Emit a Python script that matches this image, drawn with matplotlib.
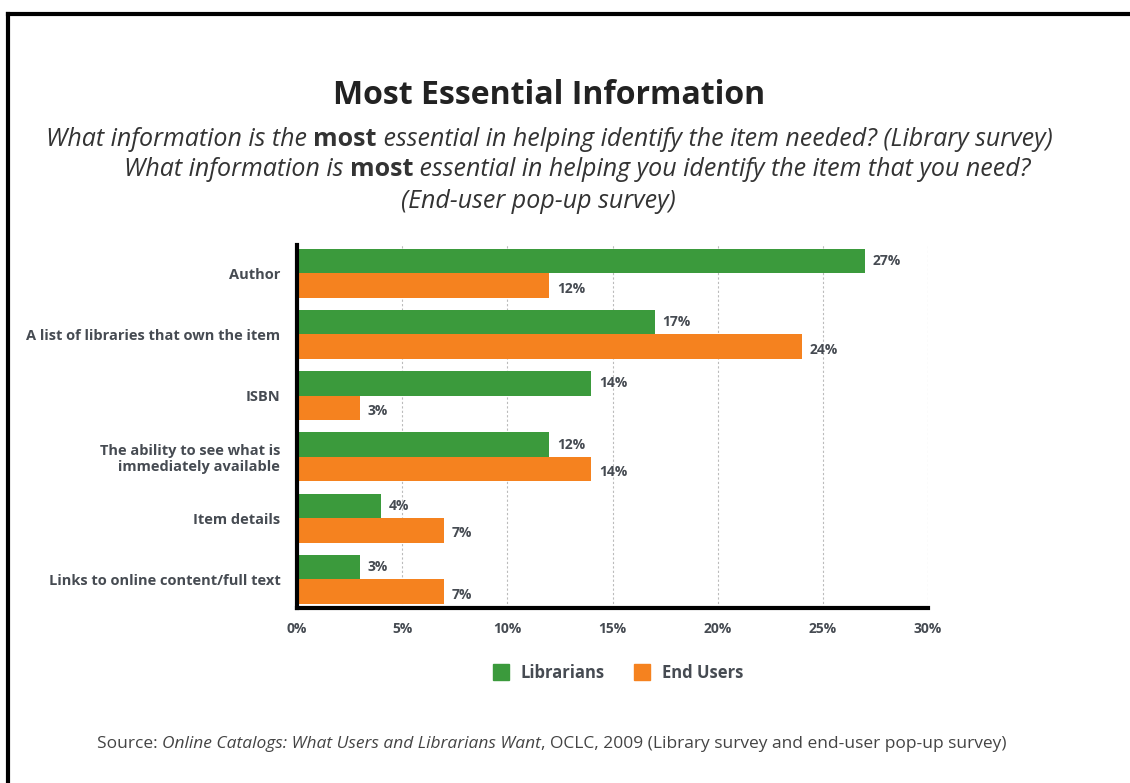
import matplotlib
matplotlib.use("Agg")
import matplotlib.pyplot as plt
import numpy as np
from matplotlib.lines import Line2D

categories = ["Author", "A list of libraries that own the item", "ISBN",
              "The ability to see what is\nimmediately available", "Item details",
              "Links to online content/full text"]
librarians = [27, 17, 14, 12, 4, 3]
end_users = [12, 24, 3, 14, 7, 7]
series_names = ["Librarians", "End Users"]
xticks = [0, 5, 10, 15, 20, 25, 30]

GREEN = "#3b9a3c"
ORANGE = "#f5821f"
LABEL = "#464b52"
NARROW = ["Open Sans", "DejaVu Sans"]
BODY = ["Open Sans", "DejaVu Sans"]
narrow = dict(family=NARROW, fontweight="bold", fontstretch="condensed")

fig = plt.figure(figsize=(11.3, 7.83), dpi=100)
ax = fig.add_axes([0.2628, 0.2235, 0.5585, 0.4635])

y = np.arange(len(categories))
h = 0.4
ax.barh(y - h / 2, librarians, height=h, color=GREEN, zorder=3)
ax.barh(y + h / 2, end_users, height=h, color=ORANGE, zorder=3)

for yi, v in zip(y, librarians):
    ax.text(v + 0.35, yi - h / 2, f"{v}%", va="center", ha="left", fontsize=10,
            color=LABEL, **narrow)
for yi, v in zip(y, end_users):
    ax.text(v + 0.35, yi + h / 2 + 0.05, f"{v}%", va="center", ha="left", fontsize=10,
            color=LABEL, **narrow)

ax.set_xlim(0, 30)
ax.set_ylim(len(categories) - 0.53, -0.46)
ax.set_xticks(xticks)
ax.set_xticklabels([f"{t}%" for t in xticks], fontsize=10, color=LABEL, **narrow)
ax.set_yticks(y)
ax.set_yticklabels(categories, fontsize=10.5, color=LABEL, linespacing=1.15, **narrow)
ax.tick_params(length=0, pad=12)
ax.tick_params(axis="x", pad=10)
ax.grid(axis="x", color="#bbbbbb", linestyle=(0, (2, 2)), linewidth=0.8, zorder=0)
for s in ["top", "right"]:
    ax.spines[s].set_visible(False)
ax.spines["left"].set_linewidth(3)
ax.spines["bottom"].set_linewidth(3)
ax.spines["left"].set_zorder(4)

# legend
handles = [Line2D([], [], marker="s", linestyle="", markersize=12, color=GREEN),
           Line2D([], [], marker="s", linestyle="", markersize=12, color=ORANGE)]
leg = fig.legend(handles, series_names, loc="center", bbox_to_anchor=(0.543, 0.141),
                 ncol=2, frameon=False, handletextpad=0.2, columnspacing=1.2,
                 prop={"family": NARROW, "weight": "bold", "size": 12, "stretch": "condensed"})
for t in leg.get_texts():
    t.set_color(LABEL)

# frame lines at top and left
fig.add_artist(Line2D([8 / 1130, 8 / 1130], [0, 1 - 14 / 783], transform=fig.transFigure,
                      color="black", linewidth=3))
fig.add_artist(Line2D([8 / 1130, 1], [1 - 14 / 783, 1 - 14 / 783], transform=fig.transFigure,
                      color="black", linewidth=3))

renderer = fig.canvas.get_renderer()


def rich_line(parts, xc, yc, size, color):
    # parts: list of (text, style, weight)
    texts = []
    for s, style, weight in parts:
        t = fig.text(0, yc, s, ha="left", va="center", fontsize=size, style=style,
                     fontweight=weight, color=color, family=BODY)
        texts.append(t)
    widths = [t.get_window_extent(renderer).width / fig.bbox.width for t in texts]
    x = xc - sum(widths) / 2
    for t, w in zip(texts, widths):
        t.set_x(x)
        x += w


fig.text(0.486, 1 - 96 / 783, "Most Essential Information", ha="center", va="center",
         fontsize=23, color="#222222", **narrow)

sub_color = "#333333"
rich_line([("What information is the ", "italic", "normal"), ("most", "normal", "bold"),
           (" essential in helping identify the item needed? (Library survey)", "italic", "normal")],
          0.486, 1 - 140 / 783, 18, sub_color)
rich_line([("What information is ", "italic", "normal"), ("most", "normal", "bold"),
           (" essential in helping you identify the item that you need?", "italic", "normal")],
          0.511, 1 - 170 / 783, 18, sub_color)
rich_line([("(End-user pop-up survey)", "italic", "normal")],
          0.476, 1 - 201 / 783, 18, sub_color)

rich_line([("Source: ", "normal", "normal"),
           ("Online Catalogs: What Users and Librarians Want", "italic", "normal"),
           (", OCLC, 2009 (Library survey and end-user pop-up survey)", "normal", "normal")],
          0.488, 1 - 744 / 783, 12.5, "#444444")

fig.savefig("out.png", dpi=100)
